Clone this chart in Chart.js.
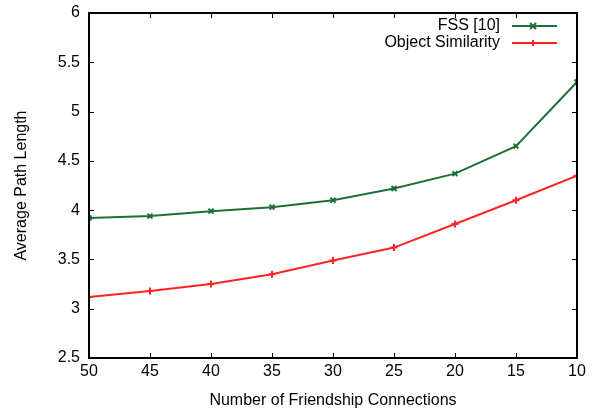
<!DOCTYPE html>
<html>
<head>
<meta charset="utf-8">
<script src="https://cdn.jsdelivr.net/npm/chart.js@4.4.1/dist/chart.umd.min.js"></script>
<style>
html,body{margin:0;padding:0;background:#fff;}
#wrap{width:597px;height:412px;}
</style>
</head>
<body>
<div id="wrap"><canvas id="c" width="597" height="412"></canvas></div>
<script>
const connections = [50, 45, 40, 35, 30, 25, 20, 15, 10];
const fssValues = [3.92, 3.94, 3.99, 4.03, 4.10, 4.22, 4.37, 4.65, 5.30];
const objectValues = [3.12, 3.18, 3.25, 3.35, 3.49, 3.62, 3.86, 4.10, 4.35];
const xTickValues = [50, 45, 40, 35, 30, 25, 20, 15, 10];
const yTickValues = [2.5, 3, 3.5, 4, 4.5, 5, 5.5, 6];
const seriesNames = ['FSS [10]', 'Object Similarity'];

const FONT = '"Liberation Sans", Arial, Helvetica, sans-serif';
const GREEN = '#1d7035';
const RED = '#ff2424';

const boxPlugin = {
  id: 'box',
  afterDatasetsDraw(chart) {
    const {ctx, chartArea: a, scales} = chart;
    ctx.save();
    ctx.strokeStyle = '#000';
    ctx.lineWidth = 1;
    const tl = 5;
    ctx.beginPath();
    scales.x.ticks.forEach(t => {
      const px = Math.round(scales.x.getPixelForValue(t.value)) + 0.5;
      ctx.moveTo(px, a.bottom); ctx.lineTo(px, a.bottom - tl);
      ctx.moveTo(px, a.top); ctx.lineTo(px, a.top + tl);
    });
    scales.y.ticks.forEach(t => {
      const py = Math.round(scales.y.getPixelForValue(t.value)) + 0.5;
      ctx.moveTo(a.left, py); ctx.lineTo(a.left + tl, py);
      ctx.moveTo(a.right, py); ctx.lineTo(a.right - tl, py);
    });
    ctx.stroke();
    ctx.lineWidth = 2;
    ctx.strokeRect(a.left, a.top, a.right - a.left, a.bottom - a.top);

    // legend: text first, then line sample with marker
    ctx.font = '16px ' + FONT;
    ctx.textAlign = 'right';
    ctx.textBaseline = 'middle';
    chart.data.datasets.forEach((ds, i) => {
      const y = 26 + i * 17;
      ctx.fillStyle = '#000';
      ctx.fillText(ds.label, 500, y);
      ctx.strokeStyle = ds.borderColor;
      ctx.lineWidth = 2;
      ctx.beginPath();
      ctx.moveTo(512, y); ctx.lineTo(557, y);
      ctx.stroke();
      ctx.beginPath();
      const r = 3;
      if (ds.pointStyle === 'crossRot') {
        ctx.moveTo(533 - r, y - r); ctx.lineTo(533 + r, y + r);
        ctx.moveTo(533 - r, y + r); ctx.lineTo(533 + r, y - r);
      } else {
        ctx.moveTo(533 - r, y); ctx.lineTo(533 + r, y);
        ctx.moveTo(533, y - r); ctx.lineTo(533, y + r);
      }
      ctx.stroke();
    });
    ctx.restore();
  }
};

new Chart(document.getElementById('c'), {
  type: 'line',
  data: {
    datasets: [
      {
        label: seriesNames[0],
        data: connections.map((c, i) => ({x: c, y: fssValues[i]})),
        borderColor: GREEN, backgroundColor: GREEN, borderWidth: 2,
        pointStyle: 'crossRot', pointRadius: 3.5, pointBorderWidth: 2, tension: 0
      },
      {
        label: seriesNames[1],
        data: connections.map((c, i) => ({x: c, y: objectValues[i]})),
        borderColor: RED, backgroundColor: RED, borderWidth: 2,
        pointStyle: 'cross', pointRadius: 3.5, pointBorderWidth: 2, tension: 0
      }
    ]
  },
  options: {
    responsive: false,
    animation: false,
    devicePixelRatio: 1,
    layout: {padding: {left: 0, right: 20, top: 13, bottom: 0}},
    plugins: {legend: {display: false}, tooltip: {enabled: false}},
    scales: {
      x: {
        type: 'linear', reverse: true, min: 10, max: 50,
        afterBuildTicks: s => { s.ticks = xTickValues.map(v => ({value: v})); },
        afterFit: s => { s.height = 412 - 358; s.paddingLeft = 0; s.paddingRight = 0; },
        grid: {display: false, drawTicks: false}, border: {display: false},
        ticks: {color: '#000', font: {family: FONT, size: 16}, padding: 4, maxRotation: 0, callback: v => String(v)},
        title: {display: true, text: 'Number of Friendship Connections', color: '#000', font: {family: FONT, size: 16}, padding: {top: 0, bottom: 1.5}}
      },
      y: {
        type: 'linear', min: 2.5, max: 6,
        afterBuildTicks: s => { s.ticks = yTickValues.map(v => ({value: v})); },
        afterFit: s => { s.width = 89; s.paddingTop = 0; s.paddingBottom = 0; },
        grid: {display: false, drawTicks: false}, border: {display: false},
        ticks: {color: '#000', font: {family: FONT, size: 16}, padding: 9, callback: v => String(v)},
        title: {display: true, text: 'Average Path Length', color: '#000', font: {family: FONT, size: 16}, padding: {top: 12, bottom: 0}}
      }
    }
  },
  plugins: [boxPlugin]
});
</script>
</body>
</html>
